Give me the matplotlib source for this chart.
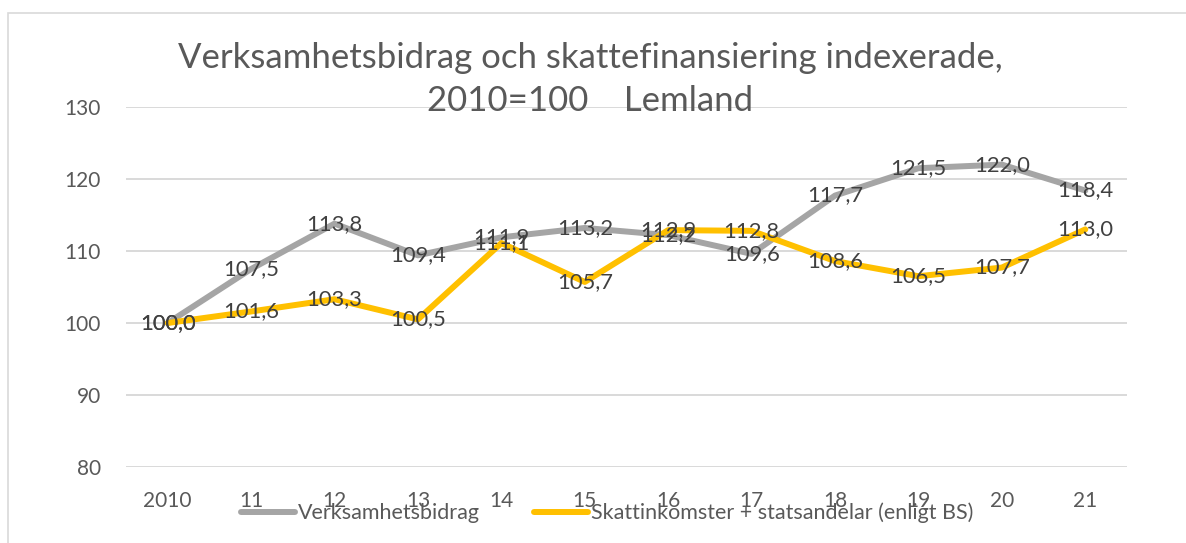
import matplotlib
matplotlib.use("Agg")
import matplotlib.pyplot as plt
from matplotlib.patches import Rectangle
from matplotlib.lines import Line2D

plt.rcParams['font.family'] = ['Lato', 'DejaVu Sans']

categories = ["2010", "11", "12", "13", "14", "15", "16", "17", "18", "19", "20", "21"]
verksamhetsbidrag = [100.0, 107.5, 113.8, 109.4, 111.9, 113.2, 112.2, 109.6, 117.7, 121.5, 122.0, 118.4]
skatt = [100.0, 101.6, 103.3, 100.5, 111.1, 105.7, 112.9, 112.8, 108.6, 106.5, 107.7, 113.0]
series_names = ["Verksamhetsbidrag", "Skattinkomster + statsandelar (enligt BS)"]
yticks = [80, 90, 100, 110, 120, 130]

W, H = 1186, 543
fig = plt.figure(figsize=(W / 100, H / 100), dpi=100)

# outer chart border
fig.patches.append(Rectangle((8 / W, -0.1), 1.2, 1 - 13 / H + 0.1, transform=fig.transFigure,
                             fill=False, edgecolor="#D9D9D9", linewidth=1.2))

ax = fig.add_axes([126 / W, 1 - 467 / H, (1127 - 126) / W, (467 - 107) / H])
x = list(range(len(categories)))
grey = "#A5A5A5"
yellow = "#FFC000"
ax.plot(x, verksamhetsbidrag, color=grey, lw=4.3, solid_capstyle="round", zorder=3)
ax.plot(x, skatt, color=yellow, lw=4.3, solid_capstyle="round", zorder=3)

for xi, v in zip(x, verksamhetsbidrag):
    ax.text(xi, v, f"{v:.1f}".replace(".", ","), ha="center", va="center",
            fontsize=15.8, color="#404040", zorder=5)
for xi, v in zip(x, skatt):
    ax.text(xi, v, f"{v:.1f}".replace(".", ","), ha="center", va="center",
            fontsize=15.8, color="#404040", zorder=5)

ax.set_xlim(-0.5, len(categories) - 0.5)
ax.set_ylim(80, 130)
ax.set_yticks(yticks)
ax.set_xticks(x)
ax.set_xticklabels(categories)
ax.grid(axis="y", color="#D9D9D9", lw=1.4)
ax.set_axisbelow(True)
for s in ax.spines.values():
    s.set_visible(False)
ax.tick_params(axis="both", length=0, labelsize=15, labelcolor="#595959")
ax.tick_params(axis="y", pad=18)
ax.tick_params(axis="x", pad=17)

fig.text(590 / W, 1 - 58 / H, "Verksamhetsbidrag och skattefinansiering indexerade,",
         ha="center", va="center", fontsize=25, color="#595959")
fig.text(590 / W, 1 - 101 / H, "2010=100    Lemland",
         ha="center", va="center", fontsize=25, color="#595959")

handles = [Line2D([], [], color=grey, lw=4.3, solid_capstyle="round"),
           Line2D([], [], color=yellow, lw=4.3, solid_capstyle="round")]
fig.legend(handles, series_names, loc="center", bbox_to_anchor=(607 / W, 1 - 513 / H),
           ncol=2, frameon=False, fontsize=15.5, labelcolor="#595959",
           handlelength=2.5, handletextpad=0.15, columnspacing=2.5)

fig.savefig("out.png", dpi=100)
